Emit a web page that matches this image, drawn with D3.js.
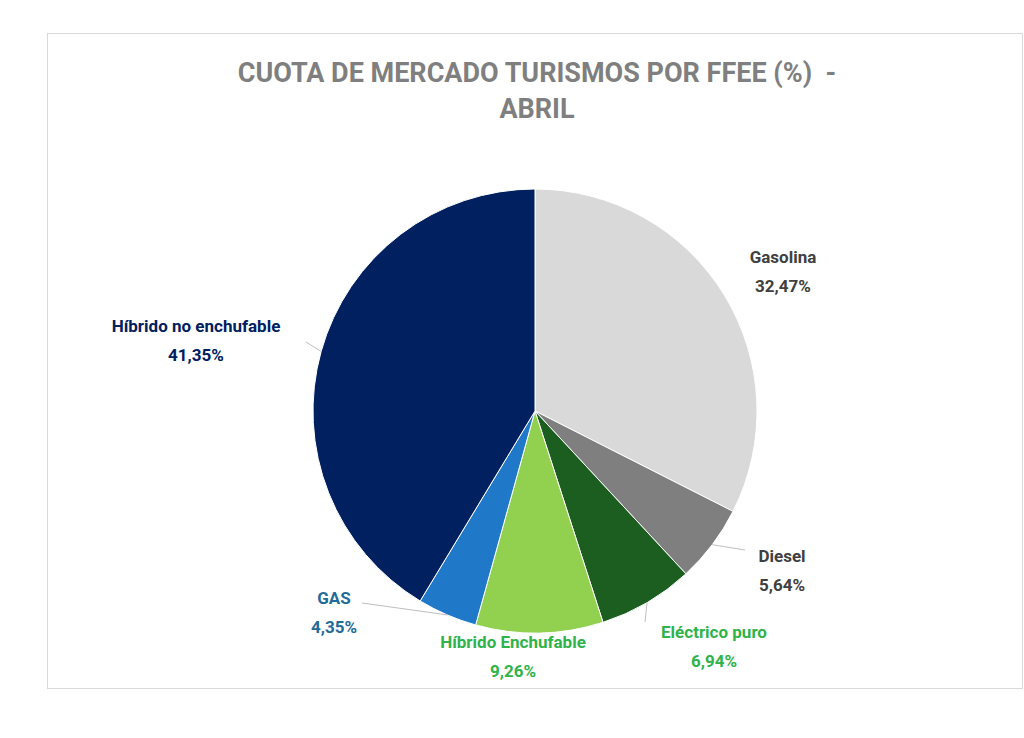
<!DOCTYPE html>
<html><head><meta charset="utf-8">
<script src="https://cdn.jsdelivr.net/npm/d3@7/dist/d3.min.js"></script>
<style>body{margin:0;background:#fff;font-family:Roboto,"Open Sans",sans-serif}</style>
</head><body><svg id="c" width="1024" height="738"></svg>
<script>
const categories = ["Gasolina","Diesel","Eléctrico puro","Híbrido Enchufable","GAS","Híbrido no enchufable"];
const values = [32.47,5.64,6.94,9.26,4.35,41.35];
const labelsText = ["32,47%","5,64%","6,94%","9,26%","4,35%","41,35%"];
const colors = ["#d9d9d9","#7f7f7f","#1b5e20","#92d050","#1f78c8","#002060"];
const labelColors = ["#404040","#404040","#2fb34a","#2fb34a","#1f6b99","#002060"];
const labelPos = [[783,257],[782,556],[714,632],[513,642],[334,598],[196,326]];

const svg = d3.select("#c");
svg.append("rect").attr("x",47.5).attr("y",33.5).attr("width",975).attr("height",655)
  .attr("fill","#fff").attr("stroke","#d9d9d9");
const tt = svg.append("text").attr("text-anchor","middle").attr("fill","#7f7f7f")
  .attr("font-size",27).attr("font-weight","bold").style("white-space","pre");
tt.append("tspan").attr("x",537).attr("y",82).text("CUOTA DE MERCADO TURISMOS POR FFEE (%)  -");
tt.append("tspan").attr("x",537).attr("y",118).text("ABRIL");

const cx=535, cy=411, r=222;
const pie = d3.pie().sort(null).value(d=>d)(values);
const arc = d3.arc().innerRadius(0).outerRadius(r);
const g = svg.append("g").attr("transform",`translate(${cx},${cy})`);
g.selectAll("path").data(pie).join("path").attr("d",arc)
  .attr("fill",(d,i)=>colors[i]).attr("stroke","#fff").attr("stroke-width",1);

const edge = d3.arc().innerRadius(r).outerRadius(r);
const leaders = {1:[745,550],2:[645,622],4:[362,603],5:[306,342]};
Object.entries(leaders).forEach(([i,p])=>{
  const c = edge.centroid(pie[i]);
  svg.append("line").attr("x1",cx+c[0]).attr("y1",cy+c[1]).attr("x2",p[0]).attr("y2",p[1])
    .attr("stroke","#bfbfbf").attr("stroke-width",1);
});

categories.forEach((c,i)=>{
  const t = svg.append("text").attr("text-anchor","middle").attr("fill",labelColors[i])
    .attr("font-size",17).attr("font-weight","bold");
  t.append("tspan").attr("x",labelPos[i][0]).attr("y",labelPos[i][1]+6).text(c);
  t.append("tspan").attr("x",labelPos[i][0]).attr("y",labelPos[i][1]+35).text(labelsText[i]);
});
</script></body></html>
